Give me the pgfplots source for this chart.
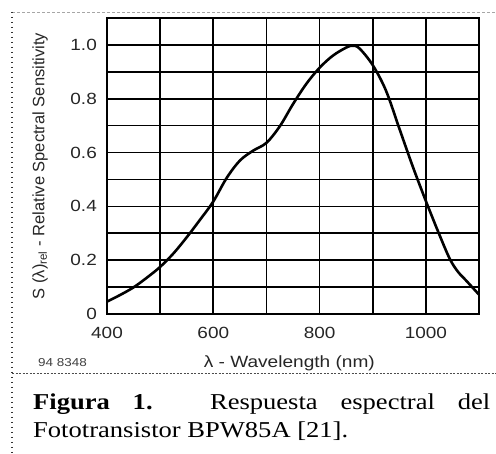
\documentclass[border=0pt]{standalone}
\usepackage{fontspec}
\setmainfont{Liberation Sans}
\newfontfamily\tickfont[FakeStretch=1.17]{Liberation Sans}
\newfontfamily\ylabfont{Liberation Sans}
\newfontfamily\capfont[FakeStretch=1.17]{Liberation Serif}
\usepackage{pgfplots}
\pgfplotsset{compat=1.18}
\pgfplotstableread{
lambda S
400 0.046
425 0.071
450 0.099
475 0.135
500 0.175
525 0.225
550 0.285
575 0.350
600 0.418
625 0.505
650 0.570
675 0.607
700 0.636
725 0.697
750 0.780
775 0.855
800 0.915
825 0.960
850 0.990
862 0.997
875 0.987
900 0.925
925 0.830
950 0.690
975 0.550
1000 0.420
1025 0.297
1045 0.205
1060 0.158
1075 0.126
1088 0.098
1100 0.072
}\spectral
\begin{document}
\begin{tikzpicture}
\path[use as bounding box] (0pt,0pt) rectangle (496pt,454pt);
\begin{axis}[
  at={(107pt,140pt)}, anchor=south west, scale only axis,
  width=372pt, height=296pt,
  xmin=400, xmax=1100, ymin=0, ymax=1.1,
  xtick={400,500,600,700,800,900,1000,1100},
  xticklabels={400,,600,,800,,1000,},
  ytick={0,0.1,0.2,0.3,0.4,0.5,0.6,0.7,0.8,0.9,1.0},
  yticklabels={0,,0.2,,0.4,,0.6,,0.8,,1.0},
  grid=major,
  grid style={black, line width=1.7pt},
  major grid style={black, line width=1.7pt},
  axis line style={line width=2.4pt},
  major tick length=0pt,
  tick label style={font=\tickfont\fontsize{16.2}{19}\selectfont, inner sep=0pt, text=black!85},
  yticklabel style={xshift=-10pt},
  xticklabel style={yshift=-12.5pt},
  xlabel={λ - Wavelength (nm)},
  xlabel style={at={(axis description cs:0.49,-0.1655)}, anchor=center, inner sep=0pt,
    font=\tickfont\fontsize{16.3}{19}\selectfont, text=black!85},
  ylabel={S (λ)\textsubscript{rel} - Relative Spectral Sensitivity},
  ylabel style={at={(axis description cs:-0.18,0.5)}, anchor=center, inner sep=0pt,
    font=\ylabfont\fontsize{16.5}{19}\selectfont, text=black!85},
]
\addplot[black, line width=2.6pt, smooth, tension=0.55, no markers] table[x=lambda, y=S] {\spectral};
\end{axis}
\draw[gray!70, dash pattern=on 3pt off 2pt, line width=0.8pt] (12pt,442pt) -- (496pt,442pt);
\draw[black!70, dash pattern=on 2pt off 1.5pt, line width=1pt] (12pt,80pt) -- (496pt,80pt);
\draw[black!80, dash pattern=on 1.5pt off 3.5pt, line width=1.5pt] (12pt,442pt) -- (12pt,0pt);
\node[anchor=west, inner sep=0pt, font=\tickfont\fontsize{11.5}{13}\selectfont, text=black!75] at (38pt,91pt) {94 8348};
\node[anchor=base west, inner sep=0pt, font=\capfont\fontsize{22.7}{27}\selectfont] at (33pt,44pt)
  {\makebox[457pt][s]{\textbf{Figura 1.} Respuesta espectral del}};
\node[anchor=base west, inner sep=0pt, font=\capfont\fontsize{22.7}{27}\selectfont] at (33pt,16pt)
  {Fototransistor BPW85A [21].};
\end{tikzpicture}
\end{document}
